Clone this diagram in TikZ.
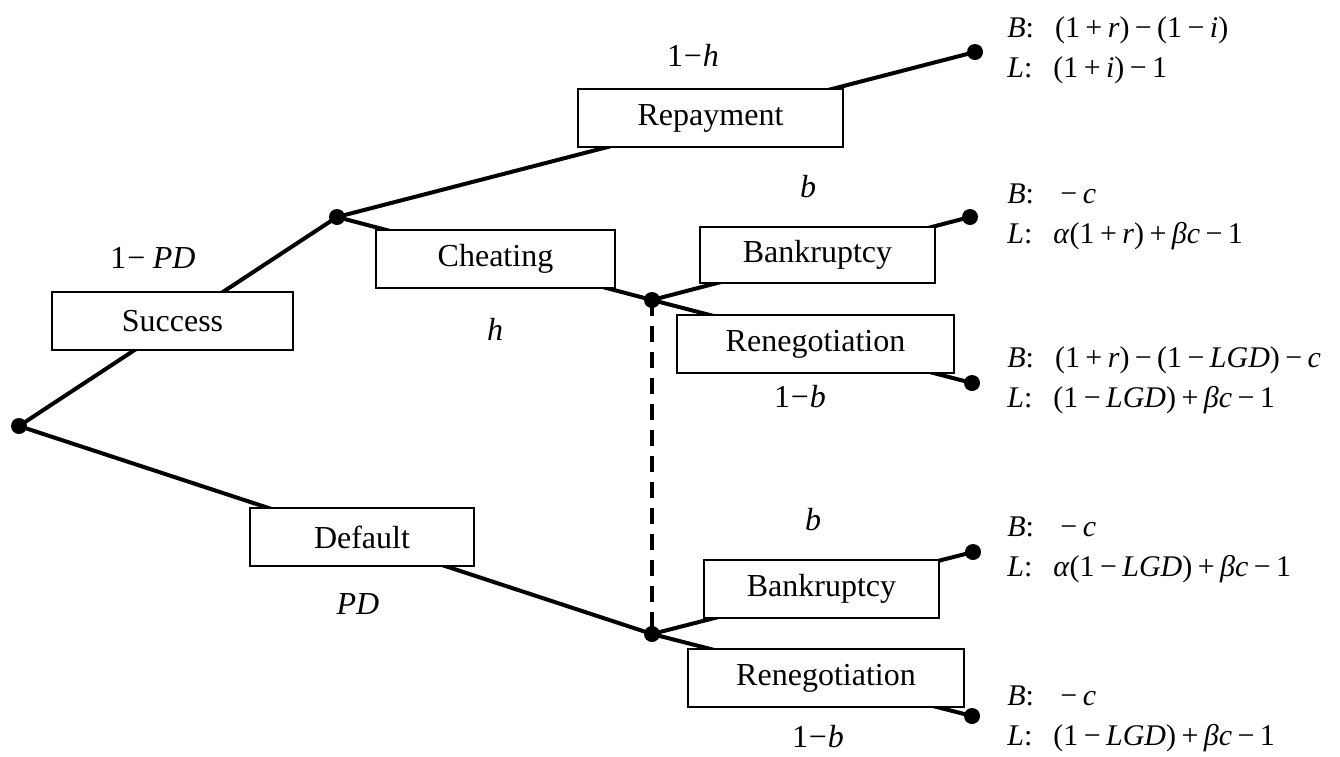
\documentclass[tikz,border=0pt]{standalone}
\usepackage{fontspec}
\setmainfont{Liberation Serif}
\newcommand\va[1]{\textit{#1}}
\newcommand\op[1]{\hspace{0.18em}#1\hspace{0.18em}}
\newcommand\tm{\hspace{0.03em}−\hspace{0.03em}}
\begin{document}
\begin{tikzpicture}[x=0.5pt,y=-0.5pt,
  dot/.style={circle,fill=black,inner sep=0pt,minimum size=8pt},
  branch/.style={line width=2pt},
  infoline/.style={line width=1.8pt,dash pattern=on 8pt off 5pt},
  choice/.style={draw=black,line width=1pt,fill=white,inner sep=0pt,minimum height=29pt,font=\fontsize{16}{19}\selectfont},
  prob/.style={inner sep=0pt,font=\fontsize{16}{19}\selectfont},
  payoff/.style={anchor=west,inner sep=0pt,align=left,font=\fontsize{15}{20}\selectfont}]
\useasboundingbox (0,0) rectangle (1340,756);
% decision points
\node[dot] (root) at (19,426) {};
\node[dot] (up) at (337,217) {};
\node[dot] (repEnd) at (975,52) {};
\node[dot] (cj) at (652,300) {};
\node[dot] (bk1) at (970,217) {};
\node[dot] (rn1) at (972,383) {};
\node[dot] (dj) at (652,634) {};
\node[dot] (bk2) at (973,552) {};
\node[dot] (rn2) at (972,716) {};
% branches
\draw[branch] (root.center) -- (up.center);
\draw[branch] (root.center) -- (dj.center);
\draw[branch] (up.center) -- (repEnd.center);
\draw[branch] (up.center) -- (cj.center);
\draw[branch] (cj.center) -- (bk1.center);
\draw[branch] (cj.center) -- (rn1.center);
\draw[branch] (dj.center) -- (bk2.center);
\draw[branch] (dj.center) -- (rn2.center);
\draw[infoline] (cj.center) -- (dj.center);
% boxes
\node[choice,minimum width=120.5pt] (success) at (172.5,321) {Success};
\node[choice,minimum width=132.5pt] (repay) at (710.5,118) {Repayment};
\node[choice,minimum width=119.5pt] (cheat) at (495.5,259) {Cheating};
\node[choice,minimum width=117.5pt,minimum height=28pt] (bank1) at (817.5,255) {Bankruptcy};
\node[choice,minimum width=138.5pt] (reneg1) at (815.5,344) {Renegotiation};
\node[choice,minimum width=112pt] (default) at (362,537) {Default};
\node[choice,minimum width=117.5pt] (bank2) at (821.5,589) {Bankruptcy};
\node[choice,minimum width=138pt] (reneg2) at (826,678) {Renegotiation};
% probabilities
\node[prob] (pSucc) at (153,258) {1\tm\hspace{0.2em}\va{PD}};
\node[prob] (pRep) at (693,55) {1\tm\va{h}};
\node[prob] (pCheat) at (495,329) {\va{h}};
\node[prob] (pB1) at (808,187) {\va{b}};
\node[prob] (pR1) at (800,397) {1\tm\va{b}};
\node[prob] (pDef) at (358,604) {\va{PD}};
\node[prob] (pB2) at (813,520) {\va{b}};
\node[prob] (pR2) at (818,737) {1\tm\va{b}};
% payoffs
\node[payoff] (g1) at (1007,50) {\va{B}:\hspace{0.7em}(1\op{+}\va{r})\op{−}(1\op{−}\va{i})\\
  \va{L}:\hspace{0.7em}(1\op{+}\va{i})\op{−}1};
\node[payoff] (g2) at (1007,217) {\va{B}:\hspace{0.7em}\op{−}\va{c}\\
  \va{L}:\hspace{0.7em}\va{α}(1\op{+}\va{r})\op{+}\va{β}\va{c}\op{−}1};
\node[payoff] (g3) at (1007,380) {\va{B}:\hspace{0.7em}(1\op{+}\va{r})\op{−}(1\op{−}\va{LGD})\op{−}\va{c}\\
  \va{L}:\hspace{0.7em}(1\op{−}\va{LGD})\op{+}\va{β}\va{c}\op{−}1};
\node[payoff] (g4) at (1007,550) {\va{B}:\hspace{0.7em}\op{−}\va{c}\\
  \va{L}:\hspace{0.7em}\va{α}(1\op{−}\va{LGD})\op{+}\va{β}\va{c}\op{−}1};
\node[payoff] (g5) at (1007,719) {\va{B}:\hspace{0.7em}\op{−}\va{c}\\
  \va{L}:\hspace{0.7em}(1\op{−}\va{LGD})\op{+}\va{β}\va{c}\op{−}1};
\end{tikzpicture}
\end{document}
